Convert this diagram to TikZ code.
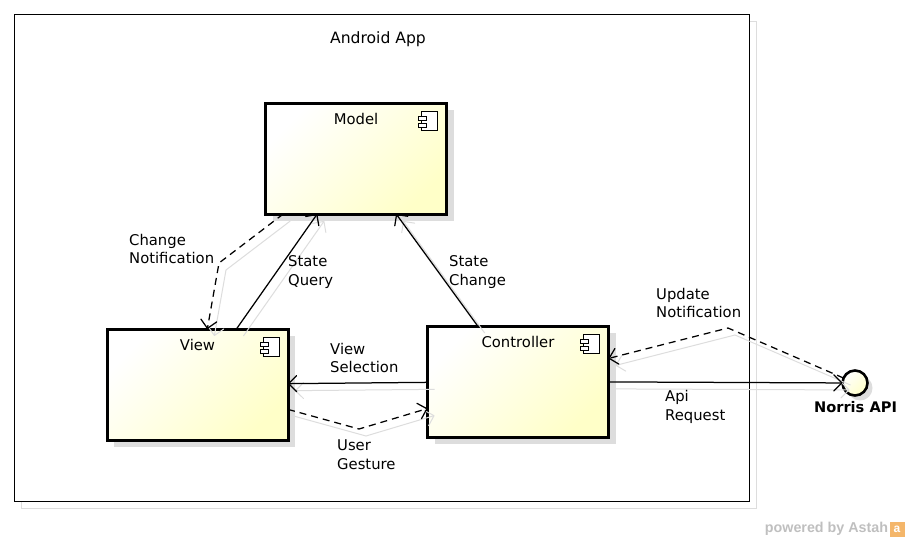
\documentclass[tikz,border=0pt]{standalone}
\usepackage{fontspec}
\setmainfont{DejaVu Sans}
\newfontfamily\astahfont{Liberation Sans}
\usetikzlibrary{arrows.meta,shadows}
\definecolor{paleyellow}{HTML}{FFFFC8}
\definecolor{creamyellow}{HTML}{FFFFE2}
\definecolor{shadowgray}{HTML}{DDDDDD}
\definecolor{astahorange}{HTML}{F4B66A}
\tikzset{
compicon/.pic = {
\draw[fill=white,line width=0.8pt] (-25,8) rectangle (-9,27);
\draw[fill=white,line width=0.8pt] (-28,13) rectangle (-20,17);
\draw[fill=white,line width=0.8pt] (-28,20) rectangle (-20,24);
}}
\begin{document}
\begin{tikzpicture}[x=1pt,y=-1pt,>={Straight Barb[length=8pt,width=16pt,round]},
comp/.style = {draw, line width=3pt, minimum width=181pt, minimum height=111pt, inner sep=0pt, outer sep=0pt,
  top color=white, middle color=creamyellow, bottom color=paleyellow, shading angle=45,
  general shadow={shadow xshift=7pt,shadow yshift=-7pt,fill=shadowgray}},
lolly/.style = {draw, circle, line width=2.6pt, minimum size=25pt, inner sep=0pt, outer sep=0pt,
  top color=white, bottom color=paleyellow, shading angle=45,
  general shadow={shadow xshift=5pt,shadow yshift=-5pt,fill=shadowgray}},
conn/.style = {line width=1.25pt, ->},
connshadow/.style = {line width=1pt, ->, draw=shadowgray, transform canvas={shift={(7,7)}}},
txt/.style = {inner sep=0pt, align=left, anchor=west, font=\fontsize{14.8}{18.6}\selectfont},
compname/.style = {yshift=-21.5pt, inner sep=0pt, font=\fontsize{14.8}{17}\selectfont},
]
\useasboundingbox (0,0) rectangle (910,541);
\node (FrameShadow) at (388.5,264.5)[draw=shadowgray,line width=1pt,minimum width=735pt,minimum height=487pt,inner sep=0pt]{};
\node (Frame) at (381.5,257.5)[draw,fill=white,line width=1pt,minimum width=735pt,minimum height=487pt,inner sep=0pt]{};
\node (AppName) at (378,39)[inner sep=0pt,font=\fontsize{15.6}{17}\selectfont]{Android App};
\node (Model) at (356,158.5)[comp,label={[compname]north:Model}]{};
\node (View) at (197.5,384.5)[comp,label={[compname]north:View}]{};
\node (Controller) at (518,381.5)[comp,label={[compname]north:Controller}]{};
\node (Norris) at (855,383)[lolly]{};
\node (NorrisName) at (855.5,407)[inner sep=0pt,font=\fontsize{14.6}{17}\selectfont\bfseries]{Norris API};
\pic at (Model.north east) {compicon};
\pic at (View.north east) {compicon};
\pic at (Controller.north east) {compicon};
\coordinate (ChangeBend) at (219,263);
\coordinate (GestureBend) at (359,429);
\coordinate (UpdateBend) at (728,328);
\draw[connshadow] (Model)--(ChangeBend)--(View);
\draw[connshadow] (View)--(Model);
\draw[connshadow] (Controller)--(Model);
\draw[connshadow] (Controller)--(View);
\draw[connshadow] (View)--(GestureBend)--(Controller);
\draw[connshadow] (Norris)--(UpdateBend)--(Controller);
\draw[connshadow] (Controller)--(Norris);
\draw[conn,dash pattern=on 7pt off 5pt] (Model)--(ChangeBend)--(View);
\draw[conn] (View)--(Model);
\draw[conn] (Controller)--(Model);
\draw[conn] (Controller)--(View);
\draw[conn,dash pattern=on 7pt off 5pt] (View)--(GestureBend)--(Controller);
\draw[conn,dash pattern=on 7pt off 5pt] (Norris)--(UpdateBend)--(Controller);
\draw[conn] (Controller)--(Norris);
\node (ChangeText) at (129,249)[txt]{Change\\Notification};
\node (QueryText) at (288,272)[txt]{State\\Query};
\node (StateText) at (449,272)[txt]{State\\Change};
\node (SelectText) at (330,358)[txt]{View\\Selection};
\node (GestureText) at (337,455)[txt]{User\\Gesture};
\node (UpdateText) at (656,303)[txt]{Update\\Notification};
\node (ApiText) at (665,407)[txt]{Api\\Request};
\node (Powered) at (826.5,529)[inner sep=0pt,text=black!25,font=\astahfont\fontsize{14.3}{17}\selectfont\bfseries]{powered by Astah};
\node (Logo) at (897,529)[fill=astahorange,text=white,minimum size=15pt,inner sep=0pt,font=\astahfont\fontsize{12}{12}\selectfont\bfseries]{a};
\end{tikzpicture}
\end{document}
